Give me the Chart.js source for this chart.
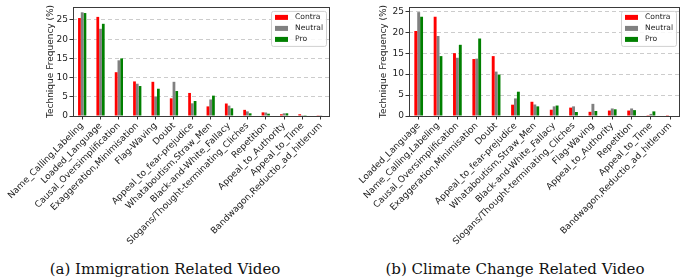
<!DOCTYPE html>
<html>
<head>
<meta charset="utf-8">
<script src="https://cdn.jsdelivr.net/npm/chart.js@4.4.1/dist/chart.umd.min.js"></script>
<style>
  body { margin: 0; background: #fff; width: 685px; height: 279px; overflow: hidden; position: relative; }
  .box { position: absolute; top: 0; }
  .caption { position: absolute; font-family: "DejaVu Serif", serif; font-size: 15px; line-height: 15px; color: #111; white-space: nowrap; text-align: center; }
</style>
</head>
<body>
<div class="box" style="left:0; width:340px; height:256px;"><canvas id="chartImmigration"></canvas></div>
<div class="box" style="left:340px; width:345px; height:256px;"><canvas id="chartClimate"></canvas></div>
<div class="caption" style="left:0; width:330px; top:262px;">(a) Immigration Related Video</div>
<div class="caption" style="left:345px; width:340px; top:262px;">(b) Climate Change Related Video</div>

<script>
// Immigration video
var immLabels = ['Name_Calling,Labeling', 'Loaded_Language', 'Causal_Oversimplification', 'Exaggeration,Minimisation',
    'Flag-Waving', 'Doubt', 'Appeal_to_fear-prejudice', 'Whataboutism,Straw_Men', 'Black-and-White_Fallacy',
    'Slogans/Thought-terminating_Cliches', 'Repetition', 'Appeal_to_Authority', 'Appeal_to_Time', 'Bandwagon,Reductio_ad_hitlerum'];
var immContra  = [25.5, 25.8, 11.4, 9.0, 8.9, 4.6, 6.0, 2.5, 3.25, 1.6, 0.95, 0.45, 0.45, 0.2];
var immNeutral = [27.0, 22.7, 14.5, 8.4, 5.1, 8.9, 3.3, 4.3, 2.7, 1.2, 0.9, 0.7, 0.05, 0.05];
var immPro     = [26.8, 24.0, 15.0, 7.8, 7.1, 6.5, 3.9, 5.3, 2.0, 0.7, 0.6, 0.7, 0.05, 0];

// Climate change video
var climLabels = ['Loaded_Language', 'Name_Calling,Labeling', 'Causal_Oversimplification', 'Exaggeration,Minimisation',
    'Doubt', 'Appeal_to_fear-prejudice', 'Whataboutism,Straw_Men', 'Black-and-White_Fallacy',
    'Slogans/Thought-terminating_Cliches', 'Flag-Waving', 'Appeal_to_Authority', 'Repetition', 'Appeal_to_Time', 'Bandwagon,Reductio_ad_hitlerum'];
var climContra  = [20.3, 23.7, 15.0, 13.6, 14.3, 2.7, 3.4, 1.5, 2.0, 1.0, 1.3, 1.3, 0.2, 0.2];
var climNeutral = [24.8, 19.1, 13.9, 13.7, 10.6, 4.2, 2.75, 2.3, 2.3, 2.9, 1.8, 1.8, 0.5, 0];
var climPro     = [23.7, 14.3, 17.0, 18.5, 9.9, 5.8, 2.3, 2.5, 0.95, 1.2, 1.6, 1.4, 1.1, 0];

var yTicks = [0, 5, 10, 15, 20, 25];
var seriesNames = ['Contra', 'Neutral', 'Pro'];
var seriesColors = ['#ff0000', '#808080', '#008000'];

var FONT = "'DejaVu Sans', sans-serif";

// box around the plot area + legend inside top right
var framePlugin = {
    id: 'frame',
    afterDatasetsDraw: function(chart) {
        var a = chart.chartArea;
        var ctx = chart.ctx;
        ctx.save();
        ctx.strokeStyle = '#3a3a3a';
        ctx.lineWidth = 1;
        ctx.strokeRect(Math.round(a.left) + 0.5, Math.round(a.top) + 0.5,
            Math.round(a.right - a.left) - 1, Math.round(a.bottom - a.top));
        ctx.restore();
    },
    afterDraw: function(chart) {
        var a = chart.chartArea;
        var ctx = chart.ctx;
        var w = 55, h = 35;
        var x = a.right - 4 - w, y = a.top + 4;
        ctx.save();
        ctx.fillStyle = 'rgba(255,255,255,0.85)';
        ctx.strokeStyle = '#d0d0d0';
        ctx.lineWidth = 1;
        ctx.beginPath();
        ctx.roundRect(x + 0.5, y + 0.5, w, h, 2);
        ctx.fill();
        ctx.stroke();
        ctx.font = "7.6px " + FONT;
        ctx.textBaseline = 'middle';
        for (var i = 0; i < seriesNames.length; i++) {
            var cy = y + 6.5 + i * 11;
            ctx.fillStyle = seriesColors[i];
            ctx.fillRect(x + 4, cy - 2.5, 13, 5);
            ctx.fillStyle = '#222';
            ctx.fillText(seriesNames[i], x + 24, cy);
        }
        ctx.restore();
    }
};

function makeChart(id, labels, contra, neutral, pro, yMax, axisWidth, rightPad, titleOffset) {
    var ctx = document.getElementById(id).getContext('2d');
    var values = [contra, neutral, pro];
    var datasets = [];
    for (var i = 0; i < values.length; i++) {
        datasets.push({
            label: seriesNames[i],
            data: values[i],
            backgroundColor: seriesColors[i],
            borderWidth: 0,
            barPercentage: 1.0,
            categoryPercentage: 0.45
        });
    }
    return new Chart(ctx, {
        type: 'bar',
        data: { labels: labels, datasets: datasets },
        plugins: [framePlugin],
        options: {
            responsive: true,
            maintainAspectRatio: false,
            animation: false,
            layout: { padding: { left: 0, right: rightPad, top: 5, bottom: 0 } },
            plugins: {
                legend: { display: false },
                tooltip: { enabled: false }
            },
            scales: {
                x: {
                    offset: true,
                    grid: { display: true, drawOnChartArea: false, offset: false, drawTicks: true,
                        tickLength: 3.5, tickColor: '#333' },
                    border: { display: false },
                    ticks: {
                        autoSkip: false, maxRotation: 45, minRotation: 45, padding: 1,
                        color: '#222', font: { family: FONT, size: 9 }
                    },
                    afterFit: function(scale) { scale.height = 140; }
                },
                y: {
                    min: 0,
                    max: yMax,
                    afterBuildTicks: function(scale) {
                        scale.ticks = yTicks.map(function(v) { return { value: v }; });
                    },
                    grid: { color: 'rgba(170,170,170,0.6)', drawTicks: true, tickLength: 3.5,
                        tickColor: '#333', tickBorderDash: [] },
                    border: { display: false, dash: [4, 3] },
                    ticks: { padding: 1.5, color: '#222', font: { family: FONT, size: 9 } },
                    title: {
                        display: true, text: 'Technique Frequency (%)', color: '#222',
                        font: { family: FONT, size: 9 },
                        padding: { top: titleOffset, bottom: 0 }
                    },
                    afterFit: function(scale) { scale.width = axisWidth; }
                }
            }
        }
    });
}

makeChart('chartImmigration', immLabels, immContra, immNeutral, immPro, 28.4, 73, 10, 45);
makeChart('chartClimate', climLabels, climContra, climNeutral, climPro, 26.05, 69, 5, 38);
</script>
</body>
</html>
